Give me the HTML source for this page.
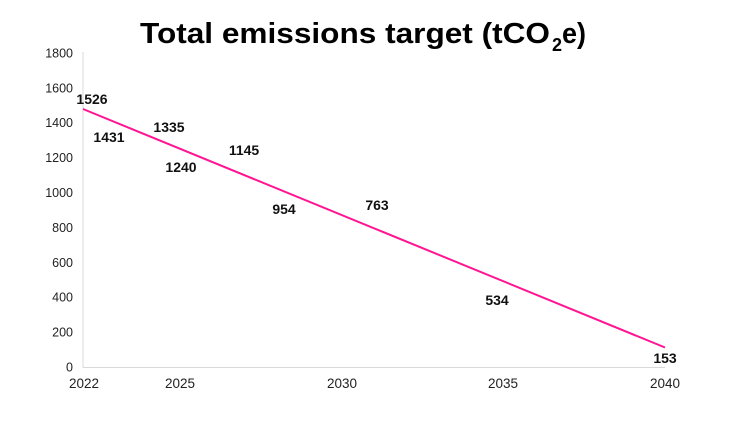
<!DOCTYPE html>
<html><head><meta charset="utf-8"><style>
html,body{margin:0;padding:0;background:#fff;}
svg{display:block;}
</style></head><body>
<svg width="729" height="429" viewBox="0 0 729 429" xmlns="http://www.w3.org/2000/svg">
<rect width="729" height="429" fill="#fff"/>
<text x="140" y="43" font-family="Liberation Sans, sans-serif" font-weight="bold" font-size="29" fill="#000" textLength="410" lengthAdjust="spacingAndGlyphs">Total emissions target (tCO</text>
<text x="552" y="51" font-family="Liberation Sans, sans-serif" font-weight="bold" font-size="18" fill="#000">2</text>
<text x="562" y="43" font-family="Liberation Sans, sans-serif" font-weight="bold" font-size="29" fill="#000" textLength="24" lengthAdjust="spacingAndGlyphs">e)</text>
<line x1="83" y1="52" x2="83" y2="367.5" stroke="#d9d9d9" stroke-width="1"/>
<line x1="83" y1="367.5" x2="665" y2="367.5" stroke="#d9d9d9" stroke-width="1"/>
<g font-family="Liberation Sans, sans-serif" font-size="12.5" fill="#222" text-anchor="end">
<text x="73" y="371.5">0</text>
<text x="73" y="336.6">200</text>
<text x="73" y="301.7">400</text>
<text x="73" y="266.8">600</text>
<text x="73" y="231.9">800</text>
<text x="73" y="197">1000</text>
<text x="73" y="162.1">1200</text>
<text x="73" y="127.2">1400</text>
<text x="73" y="92.3">1600</text>
<text x="73" y="57.4">1800</text>
</g>
<g font-family="Liberation Sans, sans-serif" font-size="13.5" fill="#222" text-anchor="middle">
<text x="84" y="388">2022</text>
<text x="180" y="388">2025</text>
<text x="342" y="388">2030</text>
<text x="503" y="388">2035</text>
<text x="665" y="388">2040</text>
</g>
<line x1="83" y1="109" x2="665" y2="347.5" stroke="#ff1493" stroke-width="2"/>
<g font-family="Liberation Sans, sans-serif" font-size="14" font-weight="bold" fill="#111" text-anchor="middle">
<text x="92" y="104">1526</text>
<text x="109" y="142">1431</text>
<text x="169" y="132">1335</text>
<text x="181" y="172">1240</text>
<text x="244" y="155">1145</text>
<text x="284" y="214">954</text>
<text x="377" y="210">763</text>
<text x="497" y="305">534</text>
<text x="665" y="363">153</text>
</g>
</svg>
</body></html>
